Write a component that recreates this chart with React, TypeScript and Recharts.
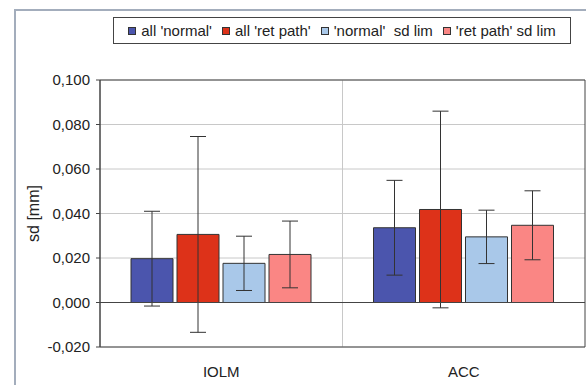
import {
  BarChart,
  Bar,
  XAxis,
  YAxis,
  CartesianGrid,
  ErrorBar,
  ReferenceLine,
  ReferenceArea,
} from "recharts";

// categories on the x axis
const categories = ["IOLM", "ACC"];

// mean sd values [mm]
const allNormal = [0.0197, 0.0336];
const allRetPath = [0.0306, 0.0418];
const normalSdLim = [0.0176, 0.0295];
const retPathSdLim = [0.0216, 0.0347];

// error (+/-) for each bar
const allNormalErr = [0.0213, 0.0213];
const allRetPathErr = [0.044, 0.0442];
const normalSdLimErr = [0.0122, 0.012];
const retPathSdLimErr = [0.015, 0.0155];

const yTicks = [-0.02, 0, 0.02, 0.04, 0.06, 0.08, 0.1];

const series = [
  { key: "an", err: "anErr", name: "all 'normal'", color: "#4b55ad" },
  { key: "ar", err: "arErr", name: "all 'ret path'", color: "#dd3219" },
  { key: "ns", err: "nsErr", name: "'normal'  sd lim", color: "#a9c8e9" },
  { key: "rs", err: "rsErr", name: "'ret path' sd lim", color: "#fa8684" },
];

const data = categories.map((cat, i) => ({
  cat,
  an: allNormal[i],
  ar: allRetPath[i],
  ns: normalSdLim[i],
  rs: retPathSdLim[i],
  anErr: allNormalErr[i],
  arErr: allRetPathErr[i],
  nsErr: normalSdLimErr[i],
  rsErr: retPathSdLimErr[i],
}));

const fmt = (v: number) => v.toFixed(3).replace(".", ",");

const font = "'Liberation Sans', Arial, sans-serif";

export default function App() {
  return (
    <div
      style={{
        position: "absolute",
        left: 0,
        top: 0,
        width: 586,
        height: 385,
        overflow: "hidden",
        background: "#fff",
        fontFamily: font,
      }}
    >
      {/* outer frame */}
      <div
        style={{
          position: "absolute",
          left: 14,
          top: 9,
          width: 620,
          height: 420,
          border: "2px solid #a3adbc",
        }}
      />
      {/* legend */}
      <div
        style={{
          position: "absolute",
          left: 113,
          top: 17,
          width: 456,
          height: 25,
          border: "1px solid #444",
          display: "flex",
          alignItems: "center",
          justifyContent: "center",
          fontSize: 15,
          color: "#222",
          whiteSpace: "pre",
          background: "#fff",
        }}
      >
        {series.map((s, i) => (
          <span
            key={s.key}
            style={{
              display: "flex",
              alignItems: "center",
              marginRight: i < series.length - 1 ? 10 : 0,
            }}
          >
            <span
              style={{
                display: "inline-block",
                width: 6,
                height: 6,
                background: s.color,
                border: "1px solid #333",
                marginRight: 5,
              }}
            />
            {s.name}
          </span>
        ))}
      </div>
      <BarChart
        width={586}
        height={385}
        data={data}
        margin={{ top: 80, right: 1, left: 20, bottom: 0 }}
        barGap={4}
        barCategoryGap={31}
        style={{ position: "absolute", left: 0, top: 0 }}
      >
        <CartesianGrid
          stroke="#c8c8c8"
          verticalCoordinatesGenerator={({ offset }: any) => [
            offset.left + offset.width / 2,
          ]}
        />
        <XAxis
          dataKey="cat"
          axisLine={false}
          tickLine={false}
          height={38}
          tickMargin={13}
          tick={{ fill: "#222", fontSize: 15, fontFamily: font }}
        />
        <YAxis
          domain={[-0.02, 0.1]}
          ticks={yTicks}
          interval={0}
          width={80}
          tickFormatter={fmt}
          tickSize={4}
          tickMargin={6}
          axisLine={{ stroke: "#444" }}
          tickLine={{ stroke: "#444" }}
          tick={{ fill: "#222", fontSize: 15, fontFamily: font }}
          label={{
            value: "sd [mm]",
            angle: -90,
            position: "insideLeft",
            offset: 13,
            style: { fill: "#222", fontSize: 16, fontFamily: font, textAnchor: "middle" },
          }}
        />
        <ReferenceArea y1={-0.02} y2={0.1} fill="none" stroke="#444" strokeWidth={1} />
        {series.map((s) => (
          <Bar
            key={s.key}
            dataKey={s.key}
            name={s.name}
            fill={s.color}
            stroke="#333"
            strokeWidth={1}
            isAnimationActive={false}
          >
            <ErrorBar dataKey={s.err} width={8} stroke="#333" strokeWidth={1} />
          </Bar>
        ))}
        <ReferenceLine y={0} stroke="#444" strokeWidth={1} />
      </BarChart>
    </div>
  );
}
